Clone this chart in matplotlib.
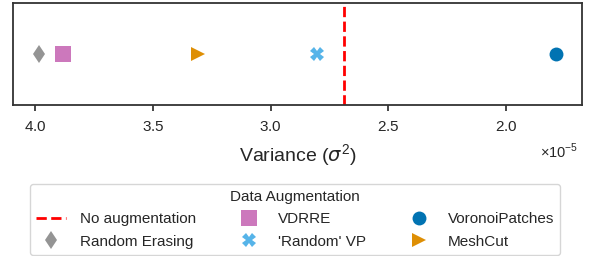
import matplotlib
matplotlib.use("Agg")
import matplotlib.pyplot as plt
import seaborn as sns
from matplotlib.ticker import ScalarFormatter

sns.set_style("ticks")
plt.rcParams['font.family'] = ['Liberation Sans', 'DejaVu Sans']
plt.rcParams['mathtext.fontset'] = 'custom'
plt.rcParams['mathtext.rm'] = 'Liberation Sans'
plt.rcParams['mathtext.it'] = 'DejaVu Sans:italic'

# variance values
methods = ["Random Erasing", "VDRRE", "'Random' VP", "VoronoiPatches", "MeshCut"]
variance = [3.984e-5, 3.881e-5, 2.802e-5, 1.787e-5, 3.307e-5]
markers = ["d", "s", "X", "o", ">"]
msizes = [9.5, 11, 10, 10, 10]
colors = ["#949494", "#cc78bc", "#56b4e9", "#0173b2", "#de8f05"]
baseline = 2.69e-5

fig = plt.figure(figsize=(5.9, 2.56), dpi=100)
ax = fig.add_axes([13/590, 1-105/256, 569/590, 102/256])

handles = {}
for m, v, mk, ms, c in zip(methods, variance, markers, msizes, colors):
    h, = ax.plot([v], [0], linestyle="none", marker=mk, color=c,
                 markersize=ms, markeredgewidth=0, label=m)
    handles[m] = h
hl = ax.axvline(baseline, color="red", linestyle="--", linewidth=2, label="No augmentation")
ax.invert_xaxis()
ax.set_yticks([])
ax.set_ylim(-1, 1)

fmt = ScalarFormatter(useMathText=True)
fmt.set_powerlimits((0, 0))
ax.xaxis.set_major_formatter(fmt)
ax.tick_params(axis="x", labelsize=11, colors=".15", length=4.5, pad=6, width=1.2)
ax.xaxis.get_offset_text().set_visible(False)
fig.text(578/590, 1-158/256, r"$\times10^{-5}$", ha="right", va="baseline",
         fontsize=10.5, color=".15")
ax.set_xlabel(r"Variance ($\sigma^2$)", fontsize=14, labelpad=6)
for s in ax.spines.values():
    s.set_color(".2")
    s.set_linewidth(1.3)

order = [hl, handles["Random Erasing"], handles["VDRRE"], handles["'Random' VP"],
         handles["VoronoiPatches"], handles["MeshCut"]]
fig.legend(handles=order, labels=[h.get_label() for h in order], ncol=3,
           loc="upper center", bbox_to_anchor=(0.5, 1-176/256),
           title="Data Augmentation", fontsize=11, title_fontsize=11,
           columnspacing=2.45, handletextpad=0.9, borderpad=0.4,
           labelspacing=0.55)

fig.savefig("out.png", dpi=100)
